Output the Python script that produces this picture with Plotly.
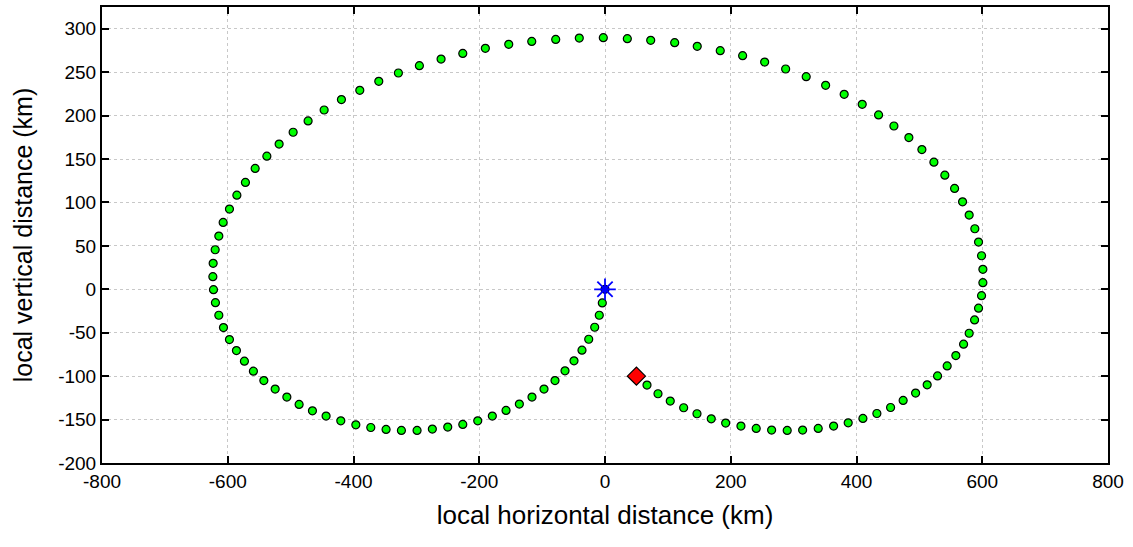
import plotly.graph_objects as go

# Trajectory points (km), in order from the origin to the end
track_x = [-4.3, -9.1, -16.4, -25.9, -36.6, -49.3, -63.6, -79.5, -97.0, -116.1, -136.2, -157.4,
           -179.2, -202.4, -226.2, -250.1, -274.6, -298.9, -323.8, -348.2, -372.5, -396.3, -420.2,
           -443.6, -465.3, -486.5, -506.0, -524.6, -542.6, -559.2, -573.5, -586.2, -597.3, -606.8,
           -614.2, -619.6,
           -622.7, -623.7, -623.2, -620.0, -614.2, -607.3, -597.3, -585.5, -571.9, -556.4, -537.8,
           -518.3, -496.0, -472.2, -446.7, -419.2, -390.0, -359.8, -328.6, -295.2, -260.7, -226.2,
           -190.3, -153.1, -116.5, -78.4, -40.9, -2.7,
           35.5, 72.7, 110.8, 146.7, 183.3, 218.9, 253.9, 287.3, 320.0, 350.9, 380.4, 409.1, 435.1,
           459.5, 483.3, 504.0, 523.1,
           540.5, 556.0, 568.7, 579.2, 588.2, 594.1, 598.9, 601.0, 601.0, 598.9, 594.1, 587.8,
           579.2, 570.3, 558.0, 544.2, 528.9, 512.4, 494.0, 474.2, 454.2, 432.4, 410.2, 386.8, 363.6,
           339.1, 314.3, 289.8, 265.0, 240.5, 216.2, 191.9, 169.0, 146.3, 125.1, 103.8, 84.3, 66.8]
track_y = [-15.7, -29.9, -43.7, -57.5, -70.1, -82.4, -93.9, -105.1, -114.9, -124.1, -132.2, -139.5,
           -146.0, -151.4, -155.6, -158.6, -160.9, -162.5, -162.5, -161.4, -159.1, -156.0, -151.4,
           -146.0, -139.9, -132.6, -124.1, -114.9, -105.1, -94.3, -82.8, -70.6, -57.9, -44.1,
           -29.9, -15.4,
           -0.5, 14.5, 29.9, 45.5, 61.3, 77.0, 92.3, 108.4, 123.0, 139.1, 153.2,
           167.2, 180.8, 193.8, 206.4, 218.4, 229.1, 239.4, 249.0, 257.5, 265.1, 271.6,
           277.4, 282.0, 285.4, 287.7, 289.2, 289.7,
           288.5, 286.6, 283.9, 279.7, 274.7, 269.0, 261.6, 253.6, 244.8, 234.8, 224.5, 213.0, 200.7,
           188.0, 174.7, 160.9, 146.3,
           131.4, 116.1, 100.7, 85.4, 69.7, 54.4, 38.6, 23.0, 7.6, -7.4, -21.8, -35.3,
           -50.6, -63.2, -76.3, -88.2, -99.7, -110.0, -119.5, -128.0, -136.1, -143.0, -148.7, -153.7, -157.5,
           -160.2, -162.1, -162.5, -162.1, -160.2, -157.5, -154.0, -149.1, -143.3, -136.4, -128.7, -120.3, -110.3]

start_x = [0.0]
start_y = [0.0]
end_x = [50.0]
end_y = [-100.0]

x_ticks = [-800, -600, -400, -200, 0, 200, 400, 600, 800]
y_ticks = [-200, -150, -100, -50, 0, 50, 100, 150, 200, 250, 300]

FONT = "Liberation Sans, Arial, sans-serif"

fig = go.Figure()
fig.add_trace(go.Scatter(x=track_x, y=track_y, mode="markers",
                         marker=dict(symbol="circle", size=8, color="#00ff00",
                                     line=dict(color="black", width=1.2)),
                         showlegend=False))
fig.add_trace(go.Scatter(x=end_x, y=end_y, mode="markers",
                         marker=dict(symbol="diamond", size=14, color="#ff0000",
                                     line=dict(color="black", width=1.2)),
                         showlegend=False))
fig.add_trace(go.Scatter(x=start_x, y=start_y, mode="markers",
                         marker=dict(symbol="circle", size=8, color="#0000cc",
                                     line=dict(color="#000044", width=1.2)),
                         showlegend=False))
fig.add_trace(go.Scatter(x=start_x, y=start_y, mode="markers",
                         marker=dict(symbol="asterisk-open", size=18, color="blue",
                                     line=dict(color="blue", width=1.8)),
                         showlegend=False))

axis_common = dict(showline=True, linewidth=2, linecolor="black", mirror="ticks",
                   ticks="inside", ticklen=7, tickwidth=1.5, tickcolor="black",
                   showgrid=True, gridcolor="#c8c8c8", griddash="dot", gridwidth=1,
                   zeroline=False, automargin=False,
                   tickfont=dict(family=FONT, size=19, color="black"))

fig.update_xaxes(range=[-800, 800], tickvals=x_ticks, ticktext=[str(v) for v in x_ticks],
                 title=dict(text="local horizontal distance (km)",
                            font=dict(family=FONT, size=26, color="black"),
                            standoff=15),
                 **axis_common)
fig.update_yaxes(range=[-200, 325], tickvals=y_ticks, ticktext=[str(v) for v in y_ticks],
                 title=dict(text="local vertical distance (km)",
                            font=dict(family=FONT, size=25, color="black"),
                            standoff=18),
                 **axis_common)

fig.update_layout(width=1133, height=547, margin=dict(l=102, r=25, t=7, b=84),
                  plot_bgcolor="white", paper_bgcolor="white")

fig.write_html("out.html", config={"displayModeBar": False},
               post_script="document.body.style.margin='0px';")
